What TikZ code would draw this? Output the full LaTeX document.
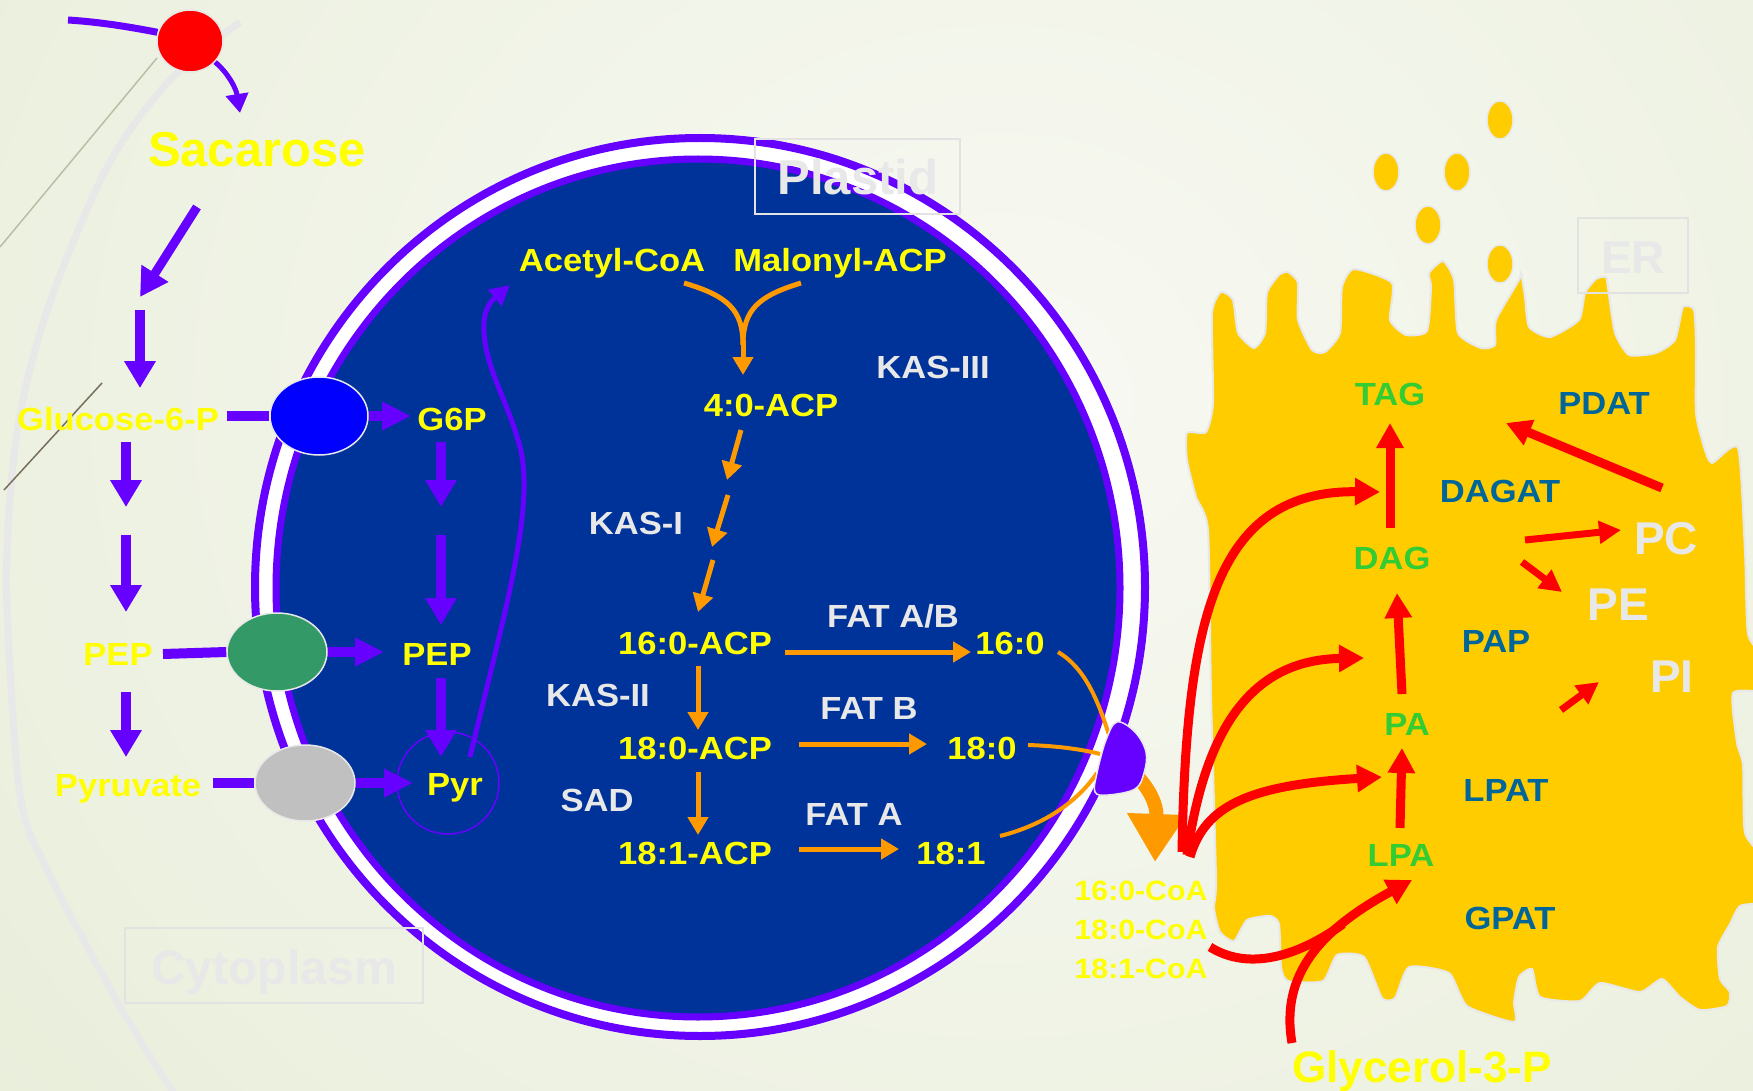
\documentclass[tikz,border=0pt]{standalone}
\usepackage{fontspec}
\setmainfont{Liberation Sans}
\newfontface\labfont[FakeStretch=1.08]{Liberation Sans Bold}
\newfontface\headfont{Liberation Sans Bold}
\usetikzlibrary{arrows.meta,shapes.geometric}

\definecolor{vio}{HTML}{6600FF}
\definecolor{plast}{HTML}{003399}
\definecolor{fa}{HTML}{FF9900}
\definecolor{ercol}{HTML}{FFCC00}
\definecolor{enzb}{HTML}{006699}
\definecolor{lim}{HTML}{33CC33}
\definecolor{pale}{HTML}{E8E8E8}
\definecolor{boxc}{HTML}{E2E2E2}
\definecolor{yel}{HTML}{FFFF00}
\definecolor{bgin}{HTML}{F8F9F3}
\definecolor{bgout}{HTML}{E4EBD3}
\definecolor{hair}{HTML}{BDBDA6}
\definecolor{darkhair}{HTML}{776F5C}
\definecolor{glu}{HTML}{0000FF}
\definecolor{pepc}{HTML}{339966}
\definecolor{pyrc}{HTML}{C0C0C0}

\begin{document}
\begin{tikzpicture}[x=1pt,y=-1pt,
  met/.style={inner sep=0pt, anchor=base, text=yel, font=\labfont\fontsize{32}{38}\selectfont},
  enz/.style={met, text=pale},
  coa/.style={met, font=\labfont\fontsize{28}{34}\selectfont},
  erm/.style={met, text=lim},
  ere/.style={met, text=enzb},
  phl/.style={inner sep=0pt, anchor=base, text=pale, font=\headfont\fontsize{46}{52}\selectfont},
  ttl/.style={phl, font=\headfont\fontsize{49}{56}\selectfont},
  bigyl/.style={ttl, text=yel},
  lblbox/.style={draw=boxc, line width=1.5pt, inner sep=0pt},
  varr/.style={draw=vio, line width=10pt, -{Triangle[length=27pt,width=30pt]}},
  vline/.style={draw=vio, line width=10pt},
  farr/.style={draw=fa, line width=5pt, -{Triangle[length=18pt,width=20pt]}},
  fline/.style={draw=fa, line width=4pt},
  rarr/.style={draw=red, line width=9pt, -{Triangle[length=25pt,width=26pt]}},
  rarrs/.style={draw=red, line width=7pt, -{Triangle[length=22pt,width=22pt]}},
  carrier/.style={ellipse, inner sep=0pt, draw=pale, line width=1.5pt},
  drop/.style={ellipse, inner sep=0pt, minimum width=26pt, minimum height=38pt, fill=ercol, draw=pale, line width=1.5pt}
]
\useasboundingbox (0,0) rectangle (1753,1091);

% background
\fill[bgout] (0,0) rectangle (1753,1091);
\shade[inner color=bgin, outer color=bgout] (-700,-1100) rectangle (2700,1900);

% cell wall and fine lines
\draw[pale, line width=7pt] plot[smooth, tension=0.6] coordinates {(240,22) (173,77) (117,150) (77,233) (40,333) (17,433) (7,550) (9,650) (21,800) (46,867) (89,950) (132,1027) (175,1095)};
\draw[hair, line width=1.5pt] (0,247) -- (157,58);
\draw[darkhair, line width=1.5pt] (102,383) -- (4,490);

% endoplasmic reticulum
\draw[fill=ercol, draw=pale, line width=2pt] plot[smooth cycle, tension=0.35] coordinates {
 (1212,313) (1221,292) (1233,300) (1238,333) (1254,348) (1265,333) (1267,293) (1279,275)
 (1288,272) (1298,283) (1298,320) (1312,350) (1325,352) (1340,333) (1342,287) (1354,269)
 (1392,283) (1390,320) (1406,335) (1427,331) (1431,287) (1429,273) (1443,261) (1454,280)
 (1458,333) (1481,348) (1495,345) (1496,320) (1519,280) (1521,273) (1525,297) (1529,327)
 (1550,337) (1579,320) (1585,293) (1596,279) (1606,277) (1608,288) (1615,333) (1629,355)
 (1656,353) (1675,340) (1683,307) (1694,310) (1696,347) (1696,413) (1704,447) (1712,463)
 (1738,448) (1745,552) (1748,634) (1765,660) (1765,690) (1733,693) (1737,743) (1743,765)
 (1745,833) (1765,861) (1765,900) (1740,906) (1730,924) (1718,947) (1720,979) (1730,992)
 (1727,1006) (1700,1010) (1680,997) (1662,979) (1640,992) (1600,983) (1580,1001) (1540,997)
 (1532,969) (1519,977) (1514,1002) (1514,1022) (1467,1006) (1449,973) (1409,967) (1395,998)
 (1382,998) (1364,957) (1337,955) (1323,981) (1288,981) (1281,967) (1279,924) (1270,916)
 (1247,920) (1234,941) (1220,932) (1214,908) (1216,879) (1211,695) (1208,530) (1196,497)
 (1187,460) (1187,433) (1206,432) (1213,403)};

% lipid droplets
\node[drop] (d1) at (1500,120) {};
\node[drop] (d2) at (1386,172) {};
\node[drop] (d3) at (1457,172) {};
\node[drop] (d4) at (1428,225) {};
\node[drop] (d5) at (1500,264) {};

% plastid envelope
\node[ellipse, inner sep=0pt, minimum width=890pt, minimum height=898pt, draw=vio, line width=8pt, fill=white] (envout) at (700,587) {};
\node[ellipse, inner sep=0pt, minimum width=844pt, minimum height=858pt, draw=vio, line width=7pt, fill=plast] (envin) at (698,588) {};

% route from pyruvate to acetyl-CoA
\coordinate (pyrout) at (470,757);
\coordinate (acin) at (510,285);
\draw[vio, line width=5pt, -{Triangle[length=20pt,width=20pt]}] (pyrout) .. controls (505,610) and (538,500) .. (518,440) .. controls (505,395) and (482,362) .. (484,322) .. controls (485,304) and (497,296) .. (acin);
\node[circle, inner sep=0pt, minimum size=102pt, draw=vio, line width=1.5pt] (pyrring) at (448,783) {};

% fatty acid synthesis
\coordinate (ya) at (684,283);
\coordinate (yb) at (801,283);
\coordinate (yj) at (743,345);
\coordinate (yt) at (743,375);
\draw[draw=fa, line width=5pt] (ya) .. controls (728,296) and (743,310) .. (yj);
\draw[draw=fa, line width=5pt] (yb) .. controls (758,296) and (743,310) .. (yj);
\draw[farr] (743,340) -- (yt);
\coordinate (k1a) at (741,430); \coordinate (k1b) at (727,480);
\coordinate (k2a) at (728,495); \coordinate (k2b) at (712,547);
\coordinate (k3a) at (713,560); \coordinate (k3b) at (698,612);
\draw[farr] (k1a) -- (k1b);
\draw[farr] (k2a) -- (k2b);
\draw[farr] (k3a) -- (k3b);
\coordinate (s1a) at (698,666); \coordinate (s1b) at (698,730);
\coordinate (s2a) at (698,772); \coordinate (s2b) at (698,835);
\draw[farr] (s1a) -- (s1b);
\draw[farr] (s2a) -- (s2b);
\coordinate (t1a) at (785,652); \coordinate (t1b) at (971,652);
\coordinate (t2a) at (799,744); \coordinate (t2b) at (927,744);
\coordinate (t3a) at (799,849); \coordinate (t3b) at (899,849);
\draw[farr] (t1a) -- (t1b);
\draw[farr] (t2a) -- (t2b);
\draw[farr] (t3a) -- (t3b);

% export of free fatty acids
\coordinate (e1) at (1058,652);
\coordinate (e2) at (1028,745);
\coordinate (e3) at (1000,836);
\draw[fline] (e1) .. controls (1085,668) and (1098,700) .. (1110,738);
\draw[fline] (e2) .. controls (1060,746) and (1085,750) .. (1100,754);
\draw[fline] (e3) .. controls (1040,826) and (1075,805) .. (1097,773);
\coordinate (exa) at (1137,776);
\coordinate (exb) at (1155,862);
\draw[draw=fa, line width=14pt, -{Triangle[length=48pt,width=56pt]}] (exa) .. controls (1150,790) and (1157,805) .. (exb);
\draw[fill=vio, draw=pale, line width=1.5pt] plot[smooth cycle, tension=0.6] coordinates {(1117,722) (1135,732) (1146,752) (1144,773) (1135,789) (1108,795) (1095,792) (1097,773) (1106,740)};

% sucrose uptake
\coordinate (mem) at (68,20);
\node[carrier, fill=red, minimum width=66pt, minimum height=62pt] (suc) at (190,41) {};
\draw[vio, line width=7pt] (mem) .. controls (100,22) and (130,27) .. (suc.165);
\node[carrier, fill=red, minimum width=66pt, minimum height=62pt] (suc2) at (190,41) {};
\coordinate (sact) at (240,113);
\draw[vio, line width=5pt, -{Triangle[length=19pt,width=22pt]}] (suc2.-40) .. controls (228,73) and (236,88) .. (sact);

% cytosolic glycolysis
\coordinate (da) at (197,207); \coordinate (db) at (140,297);
\draw[draw=vio, line width=9pt, -{Triangle[length=28pt,width=30pt]}] (da) -- (db);
\coordinate (v0a) at (140,310); \coordinate (v0b) at (140,388);
\coordinate (v1a) at (126,442); \coordinate (v1b) at (126,507);
\coordinate (v2a) at (126,535); \coordinate (v2b) at (126,612);
\coordinate (v3a) at (126,692); \coordinate (v3b) at (126,757);
\draw[varr] (v0a) -- (v0b);
\draw[varr] (v1a) -- (v1b);
\draw[varr] (v2a) -- (v2b);
\draw[varr] (v3a) -- (v3b);

% plastidic glycolysis
\coordinate (w1a) at (441,442); \coordinate (w1b) at (441,507);
\coordinate (w2a) at (441,535); \coordinate (w2b) at (441,625);
\coordinate (w3a) at (441,678); \coordinate (w3b) at (441,757);
\draw[varr] (w1a) -- (w1b);
\draw[varr] (w2a) -- (w2b);
\draw[varr] (w3a) -- (w3b);

% envelope transporters
\node[carrier, fill=glu, minimum width=98pt, minimum height=78pt] (tglu) at (319,416) {};
\node[carrier, fill=pepc, minimum width=100pt, minimum height=78pt] (tpep) at (277,652) {};
\node[carrier, fill=pyrc, minimum width=100pt, minimum height=76pt] (tpyr) at (305,783) {};
\coordinate (glcr) at (227,416); \coordinate (g6pl) at (411,416);
\coordinate (pepr) at (163,654); \coordinate (pepl) at (384,652);
\coordinate (pyrr) at (213,783); \coordinate (pyrl) at (413,783);
\draw[vline] (glcr) -- (tglu.west);
\draw[vline] (pepr) -- (tpep.west);
\draw[vline] (pyrr) -- (tpyr.west);
\draw[draw=vio, line width=10pt, -{Triangle[length=29pt,width=27pt]}] (tglu.east) -- (g6pl);
\draw[draw=vio, line width=10pt, -{Triangle[length=29pt,width=27pt]}] (tpep.east) -- (pepl);
\draw[draw=vio, line width=10pt, -{Triangle[length=29pt,width=27pt]}] (tpyr.east) -- (pyrl);

% glycerolipid assembly in the ER
\coordinate (r1s) at (1182,852); \coordinate (r1t) at (1380,492);
\coordinate (r2s) at (1187,855); \coordinate (r2t) at (1364,658);
\coordinate (r3s) at (1190,857); \coordinate (r3t) at (1382,777);
\draw[rarr] (r1s) .. controls (1186,620) and (1215,490) .. (r1t);
\draw[rarr] (r2s) .. controls (1205,730) and (1250,660) .. (r2t);
\draw[rarr] (r3s) .. controls (1205,805) and (1250,785) .. (r3t);
\coordinate (cs) at (1210,947); \coordinate (cj) at (1343,924);
\coordinate (gs) at (1292,1043); \coordinate (gt) at (1412,880);
\draw[red, line width=9pt] (cs) .. controls (1250,972) and (1300,955) .. (cj);
\draw[rarr] (gs) .. controls (1280,975) and (1320,930) .. (gt);
\coordinate (lpaup) at (1400,828); \coordinate (pain) at (1402,748);
\coordinate (paup) at (1402,694); \coordinate (dagin) at (1397,593);
\coordinate (dagup) at (1390,528); \coordinate (tagin) at (1390,423);
\draw[rarr] (lpaup) -- (pain);
\draw[rarr] (paup) -- (dagin);
\draw[rarr] (dagup) -- (tagin);
\coordinate (pcout) at (1662,488); \coordinate (pdatin) at (1506,423);
\draw[rarr] (pcout) -- (pdatin);
\coordinate (dpc1) at (1525,540); \coordinate (dpc2) at (1621,530);
\coordinate (dpe1) at (1522,562); \coordinate (dpe2) at (1562,592);
\coordinate (dpi1) at (1561,710); \coordinate (dpi2) at (1599,682);
\draw[rarrs] (dpc1) -- (dpc2);
\draw[rarrs] (dpe1) -- (dpe2);
\draw[rarrs] (dpi1) -- (dpi2);

% labels: cytosol
\node[bigyl] (sac) at (257,167) {Sacarose};
\node[met] (glc) at (118,430) {Glucose-6-P};
\node[met] (pepo) at (118,665) {PEP};
\node[met] (pyro) at (128,796) {Pyruvate};

% labels: plastid
\node[met] (g6p) at (452,430) {G6P};
\node[met] (pepi) at (437,665) {PEP};
\node[met] (pyri) at (455,795) {Pyr};
\node[met] (acoa) at (612,272) {Acetyl-CoA};
\node[met] (macp) at (840,272) {Malonyl-ACP};
\node[met] (c4) at (771,416) {4:0-ACP};
\node[enz] (kas3) at (933,378) {KAS-III};
\node[enz] (kas1) at (636,534) {KAS-I};
\node[met] (a160) at (695,654) {16:0-ACP};
\node[enz] (fatab) at (893,627) {FAT A/B};
\node[met] (f160) at (1010,654) {16:0};
\node[enz] (kas2) at (598,706) {KAS-II};
\node[met] (a180) at (695,759) {18:0-ACP};
\node[enz] (fatb) at (869,719) {FAT B};
\node[met] (f180) at (982,759) {18:0};
\node[enz] (sad) at (597,811) {SAD};
\node[met] (a181) at (695,864) {18:1-ACP};
\node[enz] (fata) at (854,825) {FAT A};
\node[met] (f181) at (951,864) {18:1};

% labels: acyl-CoA pool
\node[coa] (coa1) at (1141,900) {16:0-CoA};
\node[coa] (coa2) at (1141,939) {18:0-CoA};
\node[coa] (coa3) at (1141,978) {18:1-CoA};

% labels: ER
\node[erm] (tag) at (1390,405) {TAG};
\node[ere] (pdat) at (1604,414) {PDAT};
\node[ere] (dagat) at (1500,502) {DAGAT};
\node[erm] (dag) at (1392,569) {DAG};
\node[phl] (pc) at (1666,554) {PC};
\node[phl] (pe) at (1618,620) {PE};
\node[ere] (pap) at (1496,652) {PAP};
\node[phl] (pi) at (1672,692) {PI};
\node[erm] (pa) at (1407,735) {PA};
\node[ere] (lpat) at (1506,801) {LPAT};
\node[erm] (lpa) at (1401,866) {LPA};
\node[ere] (gpat) at (1510,929) {GPAT};
\node[bigyl, font=\headfont\fontsize{44}{50}\selectfont] (g3p) at (1422,1082) {Glycerol-3-P};

% compartment titles
\node[lblbox, minimum width=205pt, minimum height=75pt] (plbox) at (857.5,176.5) {};
\node[ttl] (pltxt) at (858,195) {Plastid};
\node[lblbox, minimum width=298pt, minimum height=75pt] (cybox) at (274,965.5) {};
\node[ttl, font=\headfont\fontsize{48}{54}\selectfont] (cytxt) at (274,984) {Cytoplasm};
\node[lblbox, minimum width=110pt, minimum height=75pt] (erbox) at (1633,255.5) {};
\node[ttl, font=\headfont\fontsize{46}{52}\selectfont] (ertxt) at (1633,273) {ER};
\end{tikzpicture}
\end{document}
